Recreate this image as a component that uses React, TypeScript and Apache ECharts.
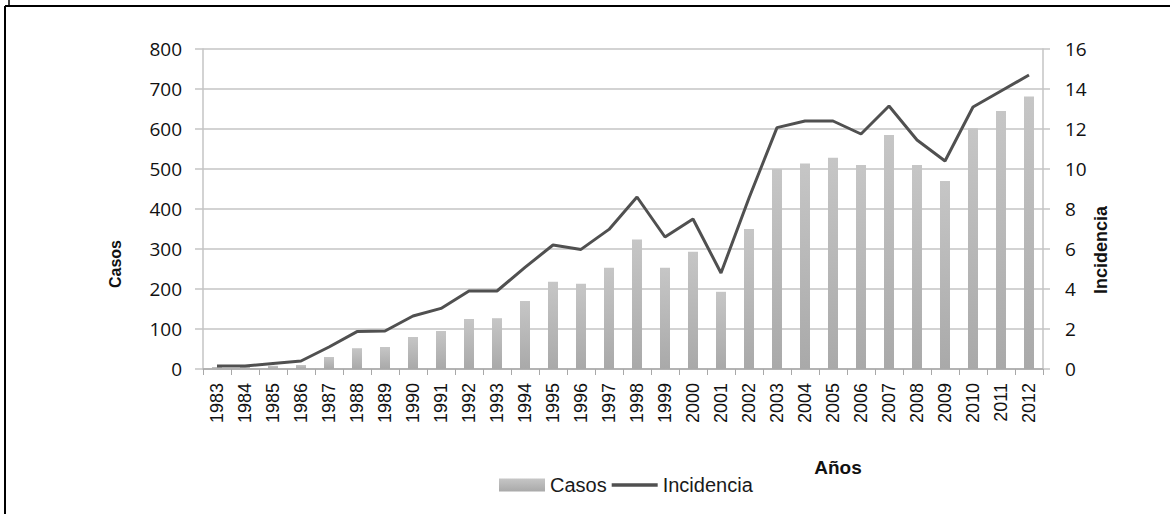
import React, { useEffect, useRef } from "react";
import * as echarts from "echarts";

const years = [
  "1983", "1984", "1985", "1986", "1987", "1988", "1989", "1990", "1991", "1992",
  "1993", "1994", "1995", "1996", "1997", "1998", "1999", "2000", "2001", "2002",
  "2003", "2004", "2005", "2006", "2007", "2008", "2009", "2010", "2011", "2012",
];
const casos = [
  5, 5, 8, 10, 30, 52, 55, 80, 95, 125,
  127, 170, 218, 213, 253, 324, 253, 293, 193, 350,
  500, 514, 528, 510, 585, 510, 470, 602, 645, 681,
];
const incidencia = [
  0.15, 0.15, 0.28, 0.4, 1.1, 1.87, 1.9, 2.65, 3.03, 3.9,
  3.9, 5.08, 6.2, 5.98, 6.98, 8.6, 6.6, 7.5, 4.8, 8.55,
  12.07, 12.4, 12.4, 11.75, 13.15, 11.45, 10.4, 13.1, 13.9, 14.7,
];

export default function App() {
  const ref = useRef<HTMLDivElement>(null);
  useEffect(() => {
    if (!ref.current) return;
    const chart = echarts.init(ref.current, null, { renderer: "svg" });
    const barColor = new echarts.graphic.LinearGradient(0, 0, 0, 1, [
      { offset: 0, color: "#c6c6c6" },
      { offset: 1, color: "#a9a9a9" },
    ]);
    chart.setOption({
      animation: false,
      backgroundColor: "#ffffff",
      grid: { left: 203, right: 127, top: 49, bottom: 145, containLabel: false },
      legend: {
        left: 494,
        top: 470,
        itemWidth: 46,
        itemHeight: 13,
        itemGap: 5,
        textStyle: { fontFamily: "Liberation Sans", fontSize: 20, color: "#1a1a1a" },
        data: [
          { name: "Casos", icon: "rect" },
          {
            name: "Incidencia",
            icon: "path://M0,0 H50 V4 H0 Z",
            itemStyle: { color: "#505050" },
          },
        ],
      },
      xAxis: {
        type: "category",
        data: years,
        boundaryGap: true,
        axisLine: { lineStyle: { color: "#a8a8a8", width: 1.5 } },
        axisTick: { show: true, length: 6, alignWithLabel: false, lineStyle: { color: "#a8a8a8" } },
        axisLabel: {
          rotate: 90,
          margin: 14,
          interval: 0,
          fontFamily: "Liberation Sans",
          fontSize: 18,
          color: "#111",
        },
      },
      yAxis: [
        {
          type: "value",
          min: 0,
          max: 800,
          interval: 100,
          axisLine: { show: true, lineStyle: { color: "#c4c4c4", width: 1.5 } },
          axisTick: { show: true, length: 8, lineStyle: { color: "#c4c4c4", width: 1.5 } },
          splitLine: { show: true, lineStyle: { color: "#c4c4c4", width: 1.5 } },
          axisLabel: { margin: 21, fontFamily: "Open Sans", fontSize: 19, color: "#111" },
        },
        {
          type: "value",
          min: 0,
          max: 16,
          interval: 2,
          position: "right",
          axisLine: { show: true, lineStyle: { color: "#c4c4c4", width: 1.5 } },
          axisTick: { show: true, length: 7, lineStyle: { color: "#c4c4c4", width: 1.5 } },
          splitLine: { show: false },
          axisLabel: { margin: 22, fontFamily: "Open Sans", fontSize: 19, color: "#111" },
        },
      ],
      series: [
        {
          name: "Casos",
          type: "bar",
          data: casos,
          barWidth: 10,
          itemStyle: { color: barColor },
        },
        {
          name: "Incidencia",
          type: "line",
          yAxisIndex: 1,
          data: incidencia,
          symbol: "none",
          showSymbol: false,
          itemStyle: { color: "#505050" },
          lineStyle: { color: "#505050", width: 3 },
        },
      ],
      graphic: [
        { type: "line", shape: { x1: 5, y1: 6, x2: 1170, y2: 6 }, style: { stroke: "#000", lineWidth: 2 } },
        { type: "line", shape: { x1: 5, y1: 6, x2: 5, y2: 514 }, style: { stroke: "#000", lineWidth: 2 } },
        { type: "line", shape: { x1: 9, y1: 0, x2: 9, y2: 6 }, style: { stroke: "#000", lineWidth: 1.5 } },
        {
          type: "text",
          x: 115,
          y: 264,
          rotation: Math.PI / 2,
          style: {
            text: "Casos",
            fontFamily: "Liberation Sans",
            fontWeight: "bold",
            fontSize: 16,
            fill: "#111",
            align: "center",
            verticalAlign: "middle",
          },
        },
        {
          type: "text",
          x: 1101,
          y: 250,
          rotation: Math.PI / 2,
          style: {
            text: "Incidencia",
            fontFamily: "Liberation Sans",
            fontWeight: "bold",
            fontSize: 18,
            fill: "#111",
            align: "center",
            verticalAlign: "middle",
          },
        },
        {
          type: "text",
          x: 838,
          y: 467,
          style: {
            text: "Años",
            fontFamily: "Liberation Sans",
            fontWeight: "bold",
            fontSize: 19,
            fill: "#111",
            align: "center",
            verticalAlign: "middle",
          },
        },
      ],
    });
    return () => chart.dispose();
  }, []);
  return (
    <div
      ref={ref}
      style={{ position: "absolute", left: 0, top: 0, width: 1170, height: 514 }}
    />
  );
}
